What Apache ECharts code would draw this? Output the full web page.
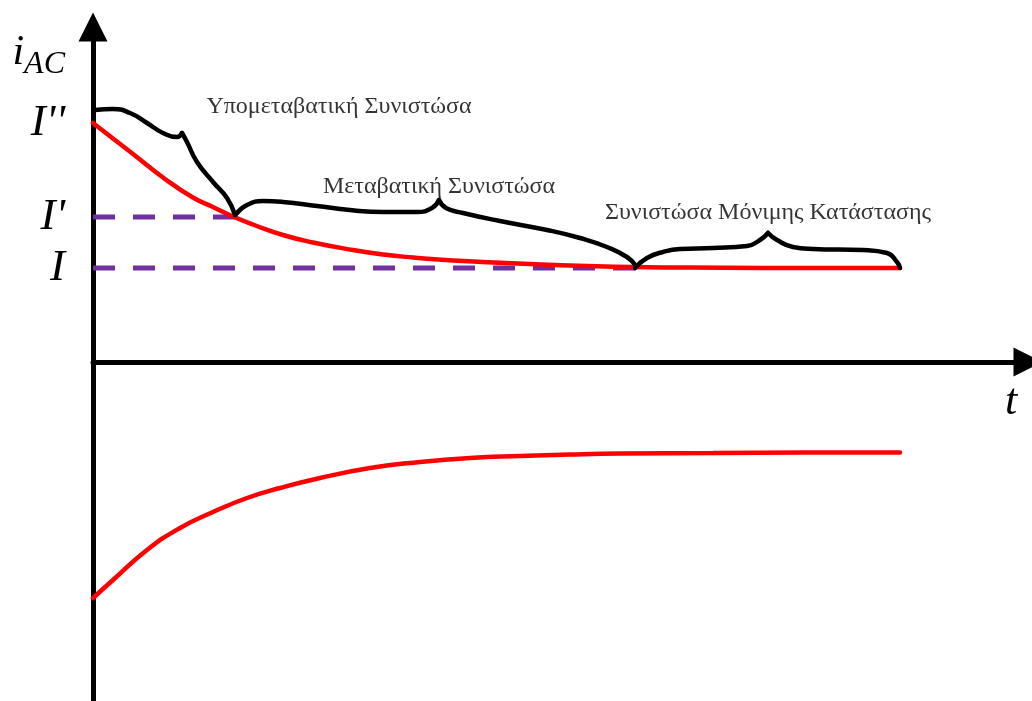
<!DOCTYPE html>
<html>
<head>
<meta charset="utf-8">
<script src="https://cdn.jsdelivr.net/npm/echarts@6/dist/echarts.min.js"></script>
<style>
  html, body { margin: 0; padding: 0; background: #ffffff; }
  #chart { width: 1032px; height: 701px; }
</style>
</head>
<body>
<div id="chart"></div>
<script>
// Envelope of the AC short-circuit current (per-unit scale, arbitrary time units)
const tUpper = [0, 4, 7, 10, 12, 14, 16, 19, 22, 26, 29, 32, 36, 45, 54, 63, 71, 80.7];
const iUpper = [2.39, 2.08, 1.845, 1.645, 1.55, 1.455, 1.375, 1.27, 1.195, 1.12, 1.075, 1.045, 1.015, 0.975, 0.95, 0.943, 0.94, 0.94];

const tLower = [0, 2, 5.4, 8.7, 12, 15.4, 18.7, 22.7, 27.7, 32.7, 37.7, 42.7, 47.7, 52.7, 62, 71, 80.7];
const iLower = [-2.36, -2.18, -1.88, -1.66, -1.50, -1.36, -1.26, -1.16, -1.06, -1.00, -0.96, -0.94, -0.925, -0.915, -0.91, -0.905, -0.905];

// Reference levels I'', I', I and where their guide lines stop
const levelValues = [2.39, 1.45, 0.94];
const levelLabels = ["I''", "I'", "I"];
const levelGuideEnds = [null, 14.2, 54.3];

// Curly braces marking each component: [half up to the tip, half from the tip]
const braceSubtransient = [
  [[0.2, 2.52], [2.0, 2.53], [3.7, 2.49], [5.4, 2.39], [7.0, 2.29], [8.4, 2.25], [8.9, 2.29]],
  [[8.9, 2.29], [9.4, 2.20], [10.4, 2.00], [12.0, 1.80], [13.4, 1.64], [14.2, 1.47]]
];
const braceTransient = [
  [[14.3, 1.48], [15.4, 1.57], [17.0, 1.61], [19.0, 1.60], [22.4, 1.56], [25.7, 1.52], [29.0, 1.50], [32.4, 1.50], [33.9, 1.54], [34.6, 1.62]],
  [[34.6, 1.62], [35.3, 1.54], [37.0, 1.49], [40.7, 1.41], [45.4, 1.32], [48.7, 1.24], [51.4, 1.15], [53.4, 1.05], [54.3, 0.96]]
];
const braceSteady = [
  [[54.2, 0.94], [55.4, 1.04], [57.0, 1.10], [58.7, 1.13], [62.0, 1.14], [65.4, 1.16], [66.7, 1.22], [67.5, 1.29]],
  [[67.5, 1.29], [68.4, 1.22], [70.0, 1.15], [72.0, 1.13], [77.0, 1.12], [79.4, 1.09], [80.4, 1.00], [80.7, 0.94]]
];
const componentNames = ['Υπομεταβατική Συνιστώσα', 'Μεταβατική Συνιστώσα', 'Συνιστώσα Μόνιμης Κατάστασης'];

// ---- styling ----
const RED = '#ff0000';
const PURPLE = '#7030a0';
const INK = '#000000';
const SERIF = '"Liberation Serif", "DejaVu Serif", serif';
const braces = [braceSubtransient, braceTransient, braceSteady];
const nameOffsets = [[157, -13], [0, 0], [0, -7]];

const series = [];

// dashed guide lines for I' and I
levelValues.forEach((v, k) => {
  if (levelGuideEnds[k] === null) return;
  series.push({
    type: 'line', silent: true, symbol: 'none', z: 2,
    data: [[0, v], [levelGuideEnds[k], v]],
    lineStyle: { color: PURPLE, width: 5, type: [22, 18] }
  });
});

// envelope curves
[[tUpper, iUpper], [tLower, iLower]].forEach(([ts, vs]) => {
  series.push({
    type: 'line', symbol: 'none', smooth: 0.5, z: 3,
    data: ts.map((t, k) => [t, vs[k]]),
    lineStyle: { color: RED, width: 4.5, cap: 'round' }
  });
});

// braces, each half smoothed separately so the tip stays sharp
braces.forEach(b => {
  b.forEach(half => {
    series.push({
      type: 'line', symbol: 'none', smooth: 0.5, z: 4,
      data: half,
      lineStyle: { color: INK, width: 4.5, cap: 'round', join: 'round' }
    });
  });
});

// component names above the brace tips
series.push({
  type: 'scatter', symbolSize: 0, z: 5,
  data: braces.map((b, k) => ({
    value: b[0][b[0].length - 1],
    name: componentNames[k],
    label: { offset: nameOffsets[k] }
  })),
  label: {
    show: true, position: 'top', distance: 0,
    formatter: p => p.name,
    fontFamily: SERIF, fontSize: 24, lineHeight: 26, color: '#000000'
  }
});

const chart = echarts.init(document.getElementById('chart'), null, { renderer: 'canvas' });
chart.setOption({
  animation: false,
  backgroundColor: '#ffffff',
  grid: { left: 93, right: 4, top: 27, bottom: 0, containLabel: false },
  xAxis: {
    type: 'value', min: 0, max: 93.5,
    axisLine: { symbol: ['none', 'triangle'], symbolSize: [29, 29], lineStyle: { color: INK, width: 5 } },
    axisTick: { show: false }, axisLabel: { show: false }, splitLine: { show: false },
    name: 't', nameLocation: 'end', nameGap: -17,
    nameTextStyle: {
      fontFamily: SERIF, fontStyle: 'italic', fontSize: 44, color: INK,
      align: 'center', verticalAlign: 'top', padding: [18, 0, 0, 0]
    }
  },
  yAxis: {
    type: 'value', min: -3.39, max: 3.35,
    axisLine: { symbol: ['none', 'triangle'], symbolSize: [29, 29], lineStyle: { color: INK, width: 5 } },
    axisTick: { show: false }, splitLine: { show: false },
    axisLabel: {
      customValues: levelValues,
      formatter: v => levelLabels[levelValues.indexOf(v)] || '',
      margin: 28,
      fontFamily: SERIF, fontStyle: 'italic', fontSize: 45, color: INK
    },
    name: '{i|i}{s|AC}', nameLocation: 'end', nameGap: -29.5,
    nameTextStyle: {
      align: 'right', verticalAlign: 'middle', padding: [0, 28, 0, 0],
      rich: {
        i: { fontFamily: SERIF, fontStyle: 'italic', fontSize: 42, color: INK, verticalAlign: 'top', padding: [0, 0, 7, 0] },
        s: { fontFamily: SERIF, fontStyle: 'italic', fontSize: 32, color: INK, verticalAlign: 'bottom' }
      }
    }
  },
  series: series
});
</script>
</body>
</html>
